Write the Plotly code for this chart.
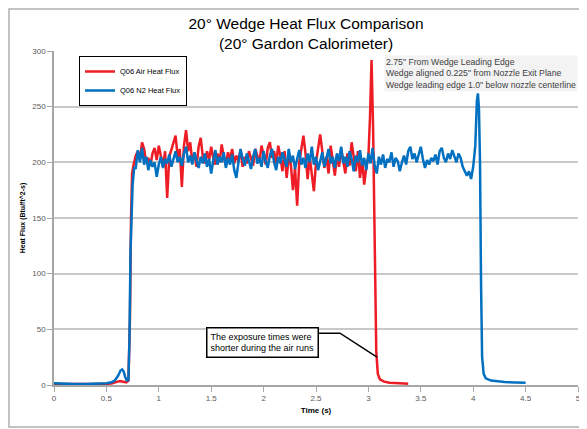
import numpy as np
import plotly.graph_objects as go

# ---------------- data ----------------
# Q06 Air heat flux
air_pre_t = [0.0, 0.1, 0.2, 0.3, 0.4, 0.5, 0.55, 0.6, 0.63, 0.66, 0.69, 0.71, 0.725, 0.735, 0.745]
air_pre_v = [1.0, 0.8, 0.6, 0.6, 0.8, 1.0, 1.4, 2.8, 3.5, 3.0, 2.4, 4.0, 60, 150, 190]
air_plateau_start = 0.76
air_plateau_step = 0.02
air_plateau_v = [
    198, 206, 210, 203, 218, 212, 200, 204, 197, 208, 213, 202, 215, 206, 196, 210,
    168, 205, 212, 218, 224, 205, 212, 178, 215, 229, 210, 218, 200, 208, 196, 214,
    222, 205, 199, 210, 202, 214, 204, 198, 208, 200, 216, 205, 197, 209, 203, 212,
    199, 206, 201, 211, 196, 205, 199, 210, 204, 197, 212, 205, 200, 215, 207, 198,
    213, 218, 204, 210, 199, 215, 205, 192, 210, 186, 205, 198, 175, 195, 161, 200,
    212, 224, 208, 185, 205, 190, 174, 200, 215, 225, 210, 195, 205, 190, 215, 200,
    188, 207, 196, 212, 200, 190, 208, 197, 218, 205, 192, 210, 186, 203, 180, 196,
    205,
]
air_post_t = [3.015, 3.03, 3.045, 3.06, 3.075, 3.09, 3.11, 3.15, 3.2, 3.3, 3.38]
air_post_v = [240, 292, 230, 120, 30, 10, 5, 3, 2, 1.5, 1.2]

# Q06 N2 heat flux
n2_pre_t = [0.0, 0.1, 0.2, 0.3, 0.4, 0.5, 0.55, 0.58, 0.61, 0.635, 0.65, 0.665, 0.68,
            0.695, 0.71, 0.72, 0.73, 0.74, 0.75, 0.765]
n2_pre_v = [1.5, 1.0, 0.8, 0.8, 1.0, 1.6, 2.5, 4.0, 8, 13, 14, 12, 7, 4, 4.5, 40, 120,
            165, 180, 195]
n2_plateau_start = 0.78
n2_plateau_step = 0.02
n2_plateau_v = [
    195, 211, 200, 213, 198, 205, 193, 202, 196, 200, 187, 198, 205, 195, 203, 199,
    207, 196, 203, 210, 200, 205, 197, 208, 214, 200, 206, 198, 209, 201, 195, 205,
    199, 208, 196, 203, 190, 202, 211, 198, 205, 200, 209, 195, 204, 198, 207, 193,
    186, 200, 212, 203, 197, 208, 200, 194, 205, 212, 199, 204, 196, 210, 201, 195,
    206, 212, 200, 193, 205, 199, 209, 202, 196, 212, 200, 206, 194, 203, 211, 198,
    204, 195, 208, 200, 214, 198, 205, 193, 202, 209, 196, 204, 212, 199, 205, 195,
    208, 201, 214, 199, 205, 196, 210, 203, 192, 206, 200, 211, 197, 204, 193, 208,
    199, 213, 197, 190, 205, 198, 207, 195, 203, 200, 209, 196, 204, 201, 192, 200,
    206, 198, 210, 214, 203, 208, 200, 207, 214, 203, 195, 202, 198, 204, 201, 207,
    198, 210, 213, 204, 200, 208, 203, 211, 205, 200, 208, 204, 196, 192, 188,
]
n2_post_t = [3.96, 3.98, 4.0, 4.02, 4.035, 4.045, 4.055, 4.065, 4.075, 4.085, 4.1,
             4.12, 4.17, 4.22, 4.3, 4.4, 4.5]
n2_post_v = [192, 185, 196, 215, 255, 262, 248, 200, 90, 25, 10, 6, 4, 3.2, 2.6, 2.2, 2.0]

x_tick_vals = [0, 0.5, 1, 1.5, 2, 2.5, 3, 3.5, 4, 4.5, 5]
x_tick_text = ["0", "0.5", "1", "1.5", "2", "2.5", "3", "3.5", "4", "4.5", "5"]
y_tick_vals = [0, 50, 100, 150, 200, 250, 300]

series_names = ["Q06 Air Heat Flux", "Q06 N2 Heat Flux"]
title_text = "20° Wedge Heat Flux Comparison<br>(20° Gardon Calorimeter)"
note_text = ("2.75\" From Wedge Leading Edge<br>"
             "Wedge aligned 0.225\" from Nozzle Exit Plane<br>"
             "Wedge leading edge 1.0\" below nozzle centerline")
callout_text = "The exposure times were<br>shorter during the air runs"

# ---------------- assemble series ----------------
air_pl_t = [air_plateau_start + air_plateau_step * i for i in range(len(air_plateau_v))]
n2_pl_t = [n2_plateau_start + n2_plateau_step * i for i in range(len(n2_plateau_v))]
air_t = air_pre_t + air_pl_t + air_post_t
air_v = air_pre_v + air_plateau_v + air_post_v
n2_t = n2_pre_t + n2_pl_t + n2_post_t
n2_v = n2_pre_v + n2_plateau_v + n2_post_v

RED = "#ee1c25"
BLUE = "#0070c0"
FONT = "Liberation Sans, Arial, sans-serif"

fig = go.Figure()
fig.add_trace(go.Scatter(x=air_t, y=air_v, mode="lines", name=series_names[0],
                         line=dict(color=RED, width=2.5)))
fig.add_trace(go.Scatter(x=n2_t, y=n2_v, mode="lines", name=series_names[1],
                         line=dict(color=BLUE, width=2.5)))

# page offset of the plot div (browser body margin)
OFF = 8
W, H = 587 - OFF, 429 - OFF
# plot area in page pixels
PL, PR, PT, PB = 54, 578, 51, 385
L, T = PL - OFF, PT - OFF
R, B = W - (PR - OFF), H - (PB - OFF)
pw, ph = PR - PL, PB - PT


def px(xp):
    return (xp - PL) / pw


def py(yp):
    return (PB - yp) / ph


fig.update_layout(
    width=W, height=H,
    margin=dict(l=L, r=R, t=T, b=B, autoexpand=False),
    paper_bgcolor="white", plot_bgcolor="white",
    font=dict(family=FONT, size=8, color="#404040"),
    title=dict(text=title_text, x=(306 - OFF) / W, xanchor="center",
               y=1 - (29 - OFF) / H, yanchor="middle", xref="container",
               font=dict(family=FONT, size=15.5, color="#000000")),
    showlegend=True,
    legend=dict(x=px(79), y=py(56), xanchor="left", yanchor="top",
                bordercolor="#000000", borderwidth=1, bgcolor="white",
                font=dict(family=FONT, size=7.5, color="#000000"),
                tracegroupgap=0, itemwidth=30),
    xaxis=dict(range=[0, 5], tickvals=x_tick_vals, ticktext=x_tick_text, automargin=False,
               showgrid=False, zeroline=False, showline=True, linecolor="#a6a6a6",
               linewidth=1.5, ticks="outside", ticklen=5, tickcolor="#a6a6a6",
               tickfont=dict(family=FONT, size=8, color="#595959"),
               title=dict(text="<b>Time (s)</b>", font=dict(family=FONT, size=8, color="#000000"),
                          standoff=5)),
    yaxis=dict(range=[0, 300], tickvals=y_tick_vals, automargin=False,
               showgrid=True, gridcolor="#c8c8c8", gridwidth=1.5, zeroline=False,
               showline=True, linecolor="#a6a6a6", linewidth=1.5,
               ticks="outside", ticklen=5, tickcolor="#a6a6a6",
               tickfont=dict(family=FONT, size=8, color="#595959"),
               title=dict(text="<b>Heat Flux (Btu/ft^2-s)</b>",
                          font=dict(family=FONT, size=7, color="#000000"), standoff=6)),
)

# outer chart border
fig.add_shape(type="rect", xref="paper", yref="paper",
              x0=px(OFF + 1), x1=px(584), y0=py(427), y1=py(OFF + 1),
              line=dict(color="#b0b0b0", width=1.5), fillcolor="rgba(0,0,0,0)", layer="below")

# notes at top right
fig.add_annotation(xref="paper", yref="paper", x=px(384), y=py(55), xanchor="left", yanchor="top",
                   text=note_text, showarrow=False, align="left", bgcolor="#f3f3f3",
                   font=dict(family=FONT, size=8.7, color="#404040"), borderpad=1)

# callout box with bent leader line
fig.add_annotation(xref="x", yref="y", x=2.529, y=38.5, xanchor="right", yanchor="middle",
                   text=callout_text, showarrow=False, align="left", bgcolor="white",
                   bordercolor="#000000", borderwidth=1.5, borderpad=3,
                   font=dict(family=FONT, size=9, color="#000000"))
fig.add_shape(type="path", xref="x", yref="y",
              path="M 2.529,46.5 L 2.729,46.5 L 3.082,25",
              line=dict(color="#000000", width=1.5))

fig.write_html("out.html")
